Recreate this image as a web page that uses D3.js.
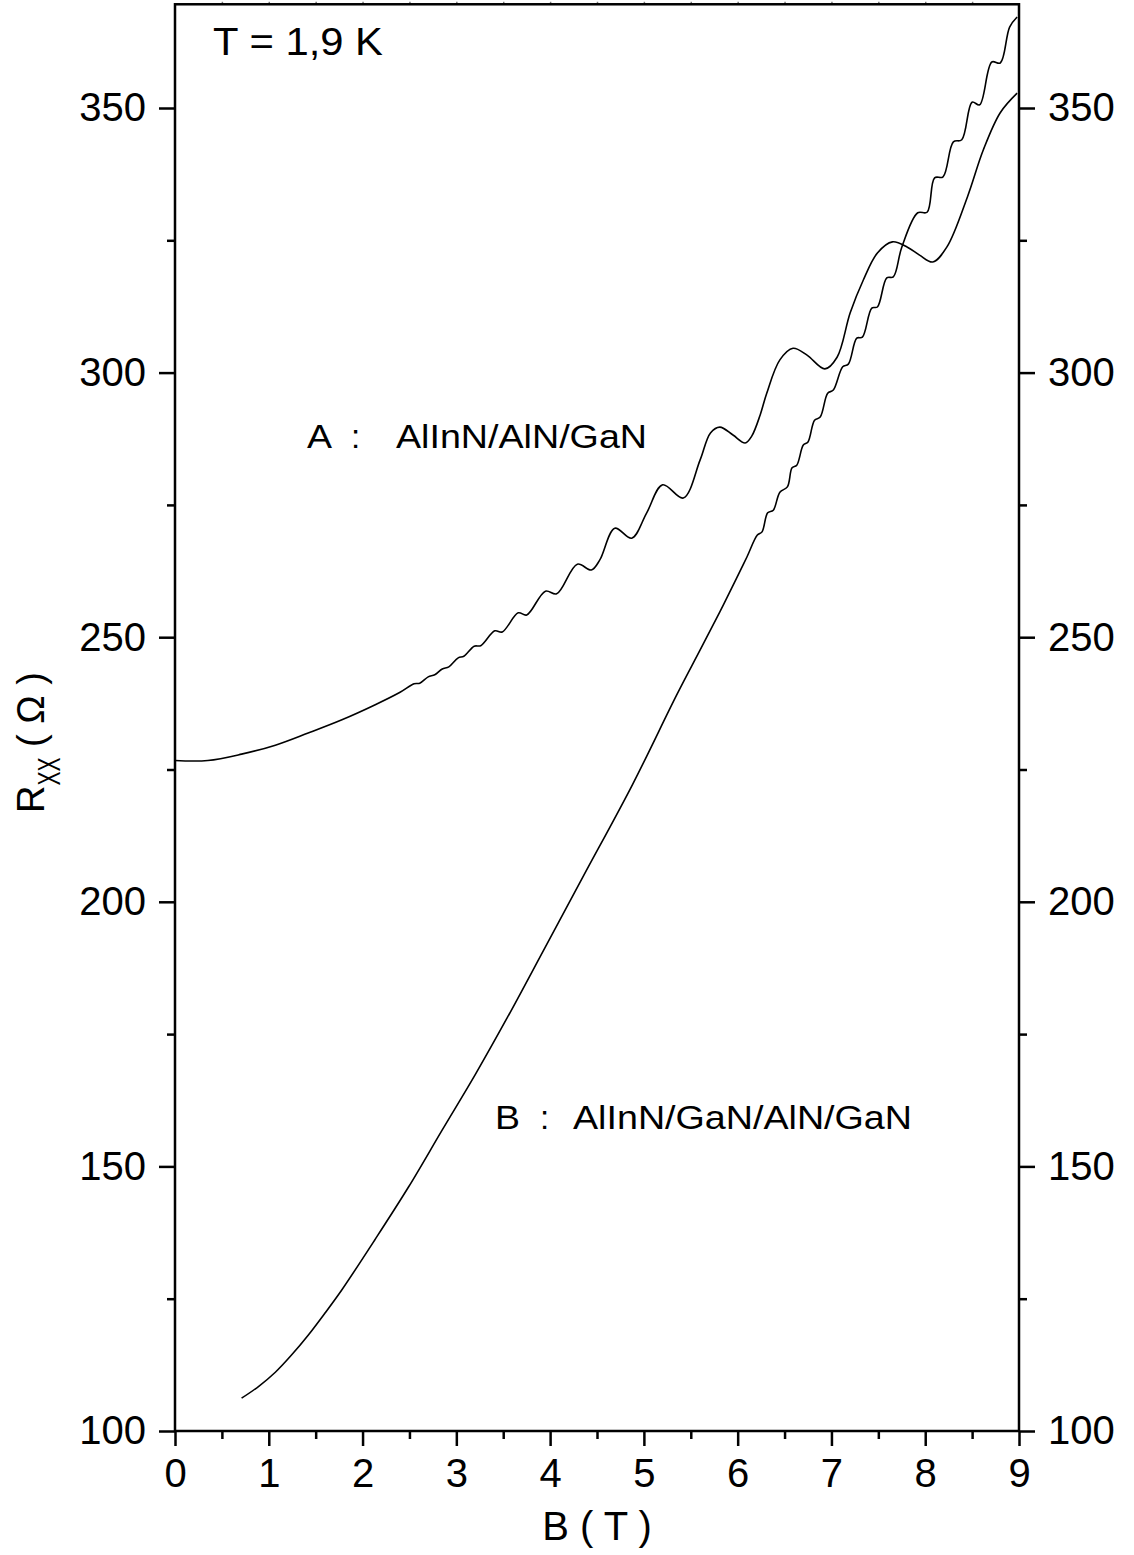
<!DOCTYPE html>
<html>
<head>
<meta charset="utf-8">
<script src="https://cdn.jsdelivr.net/npm/d3@7"></script>
<style>
  html, body { margin: 0; padding: 0; background: #fff; }
  svg { display: block; font-family: "Liberation Sans", Arial, Helvetica, sans-serif; }
</style>
</head>
<body>
<svg id="chart" width="1134" height="1555"></svg>
<script>
// Magnetoresistance Rxx(B) at T = 1.9 K for two heterostructures.
// Sample A: AlInN/AlN/GaN
const fieldA = [0.00, 0.35, 0.71, 1.07, 1.42, 1.78, 2.13, 2.40, 2.55, 2.61, 2.70, 2.77, 2.85, 2.92,
  3.02, 3.08, 3.19, 3.26, 3.41, 3.49, 3.66, 3.75, 3.95, 4.07, 4.29, 4.44, 4.53, 4.69, 4.87, 5.03,
  5.20, 5.42, 5.60, 5.71, 5.81, 5.95, 6.08, 6.15, 6.24, 6.31, 6.45, 6.59, 6.74, 6.93, 7.06, 7.20, 7.34,
  7.49, 7.65, 7.81, 7.94, 8.08, 8.23, 8.45, 8.62, 8.80, 8.98];
const rxxA = [226.7, 226.7, 227.9, 229.6, 231.9, 234.4, 237.2, 239.6, 241.2, 241.3, 242.5, 242.9, 244.0, 244.4,
  246.1, 246.4, 248.3, 248.4, 251.2, 251.0, 254.6, 254.2, 258.7, 258.2, 263.8, 262.7, 264.6, 270.6, 268.7, 273.5,
  278.8, 276.3, 283.5, 288.6, 289.7, 288.2, 286.7, 288.0, 292.0, 296.1, 302.4, 304.6, 303.3, 300.7, 302.9, 311.3, 317.5,
  322.6, 324.7, 323.7, 322.2, 320.9, 323.7, 333.2, 342.1, 349.1, 352.8];

// Sample B: AlInN/GaN/AlN/GaN
const fieldB = [0.71, 0.89, 1.07, 1.24, 1.42, 1.60, 1.78, 2.13, 2.49, 2.85, 3.20, 3.54, 3.95, 4.35, 4.88, 5.35, 5.60, 5.81,
  5.99, 6.10, 6.21, 6.26, 6.32, 6.38, 6.45, 6.53, 6.58, 6.63, 6.70, 6.75, 6.82, 6.88, 6.96, 7.02,
  7.12, 7.18, 7.27, 7.33, 7.43, 7.49, 7.59, 7.66, 7.75, 7.92, 8.02, 8.10, 8.19, 8.30, 8.39, 8.50,
  8.58, 8.71, 8.80, 8.90, 8.98];
const rxxB = [106.2, 108.4, 111.1, 114.3, 118.1, 122.3, 126.7, 136.1, 146.1, 156.9, 167.3, 178.0, 191.5, 204.7, 222.2, 239.1, 247.6, 254.8,
  261.2, 265.2, 269.3, 269.9, 273.5, 274.0, 277.4, 278.4, 282.0, 282.5, 286.3, 286.9, 291.0, 291.6, 296.1, 296.7,
  301.1, 301.6, 306.5, 306.7, 312.2, 312.4, 317.9, 318.1, 323.7, 330.2, 330.3, 336.8, 337.0, 343.6, 344.0, 351.1,
  350.6, 358.7, 358.5, 365.3, 367.2];

// Axis ticks
const xMajorTicks = [0, 1, 2, 3, 4, 5, 6, 7, 8, 9];
const xMinorTicks = [0.5, 1.5, 2.5, 3.5, 4.5, 5.5, 6.5, 7.5, 8.5];
const yMajorTicks = [100, 150, 200, 250, 300, 350];
const yMinorTicks = [125, 175, 225, 275, 325];
const xDomain = [0, 9];
const yDomain = [100, 369.6];

// Text
const tempLabel = "T = 1,9 K";
const sampleTags = ["A", "B"];
const sampleStacks = ["AlInN/AlN/GaN", "AlInN/GaN/AlN/GaN"];
const xTitle = "B ( T )";

const svg = d3.select("#chart");
const plotLeft = 175, plotRight = 1019, plotBottom = 1431;

const x = d3.scaleLinear().domain(xDomain).range([plotLeft, plotRight]);
const y = d3.scaleLinear().domain([100, 350]).range([plotBottom, 108]);
const plotTop = y(yDomain[1]);

const axisW = 2.5;

function styleAxis(g, fontSize) {
  g.select(".domain").remove();
  g.selectAll(".tick line").attr("stroke", "#000").attr("stroke-width", axisW);
  g.selectAll(".tick text").attr("fill", "#000")
    .style("font-size", fontSize + "px")
    .style("font-family", "'Liberation Sans', Arial, sans-serif");
}

// Bottom axis
svg.append("g").attr("transform", `translate(0,${plotBottom})`)
  .call(d3.axisBottom(x).tickValues(xMajorTicks).tickSize(15).tickPadding(12.6).tickFormat(d3.format("d")))
  .call(g => styleAxis(g, 40));
svg.append("g").attr("transform", `translate(0,${plotBottom})`)
  .call(d3.axisBottom(x).tickValues(xMinorTicks).tickSize(8).tickFormat(""))
  .call(g => styleAxis(g, 40));

// Top edge small ticks
svg.append("g").attr("transform", `translate(0,${plotTop})`)
  .call(d3.axisTop(x).tickValues(xMinorTicks.concat(xMajorTicks.slice(1, -1))).tickSize(2.5).tickFormat(""))
  .call(g => styleAxis(g, 40))
  .selectAll(".tick line").attr("stroke", "#777").attr("stroke-width", 1.5);

// Left axis
svg.append("g").attr("transform", `translate(${plotLeft},0)`)
  .call(d3.axisLeft(y).tickValues(yMajorTicks).tickSize(16).tickPadding(13).tickFormat(d3.format("d")))
  .call(g => styleAxis(g, 40));
svg.append("g").attr("transform", `translate(${plotLeft},0)`)
  .call(d3.axisLeft(y).tickValues(yMinorTicks).tickSize(8).tickFormat(""))
  .call(g => styleAxis(g, 40));

// Right axis
svg.append("g").attr("transform", `translate(${plotRight},0)`)
  .call(d3.axisRight(y).tickValues(yMajorTicks).tickSize(16).tickPadding(13).tickFormat(d3.format("d")))
  .call(g => styleAxis(g, 40));
svg.append("g").attr("transform", `translate(${plotRight},0)`)
  .call(d3.axisRight(y).tickValues(yMinorTicks).tickSize(8).tickFormat(""))
  .call(g => styleAxis(g, 40));

// Frame
svg.append("rect")
  .attr("x", plotLeft).attr("y", plotTop)
  .attr("width", plotRight - plotLeft).attr("height", plotBottom - plotTop)
  .attr("fill", "none").attr("stroke", "#000").attr("stroke-width", axisW);

// Curves
const line = d3.line()
  .x(d => x(d[0]))
  .y(d => y(d[1]))
  .curve(d3.curveCatmullRom.alpha(0.5));

const seriesA = fieldA.map((b, i) => [b, rxxA[i]]);
const seriesB = fieldB.map((b, i) => [b, rxxB[i]]);

[seriesA, seriesB].forEach(s => {
  svg.append("path")
    .datum(s)
    .attr("d", line)
    .attr("fill", "none")
    .attr("stroke", "#000")
    .attr("stroke-width", 1.6)
    .attr("stroke-linejoin", "round");
});

// Temperature label
svg.append("text")
  .attr("x", 213).attr("y", 55)
  .attr("textLength", 170).attr("lengthAdjust", "spacingAndGlyphs")
  .style("font-size", "39px").attr("fill", "#000")
  .text(tempLabel);

// Sample labels
const labelSpecs = [
  { tag: sampleTags[0], stack: sampleStacks[0], tagX: 307, colonX: 351, stackX: 396, stackLen: 251, base: 448 },
  { tag: sampleTags[1], stack: sampleStacks[1], tagX: 495, colonX: 540, stackX: 573, stackLen: 339, base: 1129 }
];
labelSpecs.forEach(s => {
  const g = svg.append("g").style("font-size", "33px").attr("fill", "#000");
  g.append("text").attr("x", s.tagX).attr("y", s.base)
    .attr("textLength", 25).attr("lengthAdjust", "spacingAndGlyphs").text(s.tag);
  g.append("text").attr("x", s.colonX).attr("y", s.base).text(":");
  g.append("text").attr("x", s.stackX).attr("y", s.base)
    .attr("textLength", s.stackLen).attr("lengthAdjust", "spacingAndGlyphs").text(s.stack);
});

// X axis title
svg.append("text")
  .attr("x", (plotLeft + plotRight) / 2).attr("y", 1540)
  .attr("text-anchor", "middle")
  .style("font-size", "40px").attr("fill", "#000")
  .text(xTitle);

// Y axis title: R_XX ( Ω )
const yt = svg.append("text")
  .attr("transform", "translate(44,813) rotate(-90)")
  .style("font-size", "38px").attr("fill", "#000");
yt.append("tspan").text("R");
yt.append("tspan").attr("dy", 16).style("font-size", "32px")
  .attr("textLength", 28).attr("lengthAdjust", "spacingAndGlyphs").text("XX");
yt.append("tspan").attr("dy", -16).text(" ( Ω )");
</script>
</body>
</html>
